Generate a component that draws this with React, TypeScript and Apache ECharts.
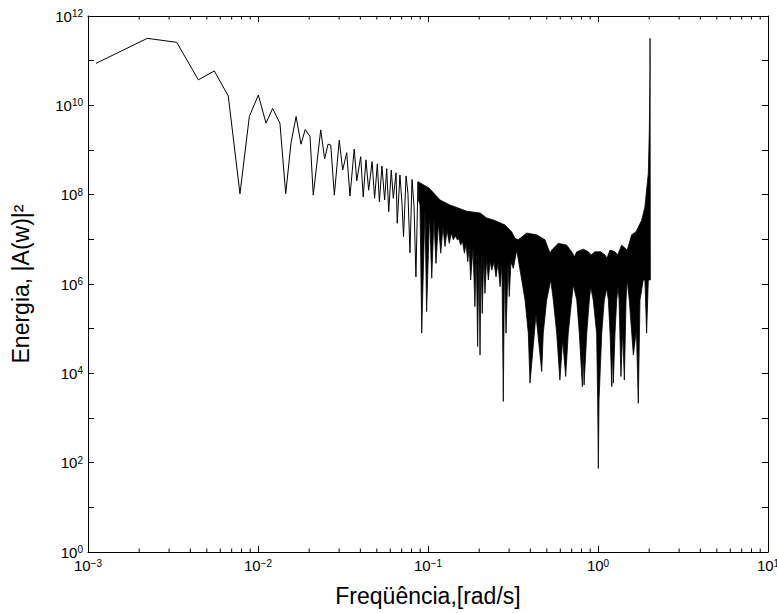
import React, { useEffect, useRef } from "react";
import * as echarts from "echarts";

// Values, as [log10(ω in rad/s), log10(|A(w)|²)]
// Sparse low-frequency part of the spectrum (drawn as a line)
const traceLow: [number, number][] = [
  [-2.953, 10.94], [-2.651, 11.5], [-2.478, 11.41], [-2.351, 10.57], [-2.257, 10.77],
  [-2.175, 10.21], [-2.106, 8.02], [-2.051, 9.75], [-1.998, 10.23], [-1.953, 9.6],
  [-1.914, 9.93], [-1.871, 9.6], [-1.837, 8.02], [-1.806, 9.15], [-1.776, 9.75],
  [-1.747, 9.13], [-1.722, 9.46], [-1.694, 9.3], [-1.675, 7.99], [-1.631, 9.45],
  [-1.608, 8.8], [-1.588, 9.13], [-1.572, 9.11], [-1.551, 7.99], [-1.522, 9.22],
  [-1.502, 8.55], [-1.478, 8.94], [-1.459, 7.97], [-1.434, 9.02], [-1.419, 8.31],
  [-1.396, 8.85], [-1.381, 7.95], [-1.365, 8.78], [-1.349, 8.1], [-1.329, 8.74],
  [-1.314, 7.92], [-1.298, 8.69], [-1.286, 7.84], [-1.271, 8.64], [-1.255, 7.88],
  [-1.243, 8.58], [-1.231, 7.62], [-1.216, 8.55], [-1.204, 7.92], [-1.188, 8.49],
  [-1.181, 7.36], [-1.165, 8.44], [-1.153, 7.81], [-1.144, 7.06], [-1.129, 8.42],
  [-1.118, 8.03], [-1.106, 6.7], [-1.094, 8.34], [-1.082, 7.73], [-1.071, 6.16],
  [-1.059, 8.29],
];

// Dense high-frequency part: upper envelope (left to right)
const envelopeUpper: [number, number][] = [
  [-1.059, 8.29], [-0.994, 8.15], [-0.929, 7.88], [-0.871, 7.77], [-0.772, 7.63],
  [-0.694, 7.59], [-0.655, 7.48], [-0.606, 7.42], [-0.547, 7.32], [-0.508, 7.17],
  [-0.488, 7.02], [-0.469, 6.99], [-0.419, 7.14], [-0.361, 7.1], [-0.312, 6.99],
  [-0.282, 6.69], [-0.272, 6.76], [-0.234, 6.91], [-0.184, 6.87], [-0.149, 6.69],
  [-0.139, 6.61], [-0.125, 6.72], [-0.086, 6.78], [-0.057, 6.72], [-0.041, 6.65],
  [-0.018, 6.72], [0.016, 6.72], [0.041, 6.65], [0.053, 6.58], [0.071, 6.76],
  [0.1, 6.72], [0.116, 6.65], [0.139, 6.87], [0.172, 6.76], [0.198, 7.1],
  [0.224, 7.17], [0.257, 7.43], [0.276, 7.73], [0.296, 8.48], [0.302, 9.45],
  [0.306, 10.75], [0.306, 11.5],
];

// Dense high-frequency part: lower envelope with its dips (right to left)
const envelopeLower: [number, number][] = [
  [0.308, 6.09], [0.296, 6.09], [0.286, 4.9], [0.276, 6.09], [0.266, 6.09],
  [0.247, 5.64], [0.237, 3.33], [0.226, 4.97], [0.208, 4.41], [0.184, 5.64],
  [0.172, 6.09], [0.165, 5.64], [0.155, 3.85], [0.145, 4.97], [0.135, 3.93],
  [0.124, 5.64], [0.118, 5.94], [0.11, 5.64], [0.1, 4.9], [0.09, 3.78],
  [0.085, 4.63], [0.081, 3.7], [0.071, 4.9], [0.061, 5.64], [0.051, 5.9],
  [0.037, 5.64], [0.022, 4.9], [0.006, 3.4], [0.002, 1.87], [-0.002, 3.4],
  [-0.008, 4.9], [-0.028, 5.64], [-0.043, 5.94], [-0.051, 5.64], [-0.066, 4.9],
  [-0.082, 3.74], [-0.087, 4.52], [-0.092, 3.7], [-0.11, 4.9], [-0.125, 5.64],
  [-0.145, 5.98], [-0.155, 5.64], [-0.175, 4.9], [-0.19, 3.93], [-0.208, 4.75],
  [-0.224, 3.85], [-0.243, 4.9], [-0.263, 5.64], [-0.278, 6.09], [-0.302, 5.64],
  [-0.322, 4.9], [-0.331, 4.04], [-0.365, 5.31], [-0.4, 3.78], [-0.41, 4.9],
  [-0.429, 5.64], [-0.478, 6.76], [-0.498, 6.35], [-0.512, 6.49], [-0.522, 5.72],
  [-0.529, 6.45], [-0.541, 4.9], [-0.55, 6.43], [-0.557, 3.37], [-0.565, 6.43],
  [-0.576, 5.94], [-0.588, 6.47], [-0.6, 6.16], [-0.612, 6.49], [-0.625, 6.31],
  [-0.635, 6.52], [-0.645, 6.09], [-0.655, 6.58], [-0.665, 5.79], [-0.672, 6.63],
  [-0.681, 5.34], [-0.688, 6.67], [-0.694, 4.41], [-0.7, 6.72], [-0.708, 4.6],
  [-0.716, 6.76], [-0.724, 5.49], [-0.735, 6.81], [-0.749, 6.09], [-0.758, 6.85],
  [-0.766, 6.5], [-0.776, 6.9], [-0.786, 6.69], [-0.797, 6.96], [-0.808, 6.87],
  [-0.818, 7.01], [-0.828, 6.99], [-0.839, 7.08], [-0.851, 6.99], [-0.863, 7.14],
  [-0.875, 6.91], [-0.888, 7.21], [-0.9, 6.84], [-0.912, 7.28], [-0.925, 6.69],
  [-0.939, 7.37], [-0.953, 6.46], [-0.965, 7.46], [-0.978, 6.13], [-0.991, 7.57],
  [-1.008, 5.38], [-1.018, 7.66], [-1.037, 4.9], [-1.047, 7.77], [-1.056, 7.88],
];

// Axes
const xMin = 0.001;
const xMax = 10;
const yMin = 1;
const yMax = 1e12;
const minorMantissas = [2, 3, 4, 5, 6, 7, 8, 9];
const minorDecades = [0.001, 0.01, 0.1, 1];

const xTitle = "Freqüência,[rad/s]";
const yTitle = "Energia, |A(w)|²";

const FONT = "'Liberation Sans', Arial, Helvetica, sans-serif";

const toVal = (p: [number, number]) => [Math.pow(10, p[0]), Math.pow(10, p[1])];

const supFormatter = (skipOdd: boolean) => (v: number) => {
  const e = Math.round(Math.log10(v));
  if (skipOdd && e % 2 !== 0) return "";
  const s = e < 0 ? "\u2212" + -e : String(e);
  return `{b|10}{s|${s}}`;
};

const richLabel = {
  b: { fontSize: 15, lineHeight: 15, verticalAlign: "bottom", fontFamily: FONT, color: "#000" },
  s: {
    fontSize: 10,
    lineHeight: 10,
    verticalAlign: "top",
    padding: [0, 0, 8, 0],
    fontFamily: FONT,
    color: "#000",
  },
};

export default function App() {
  const ref = useRef<HTMLDivElement>(null);

  useEffect(() => {
    if (!ref.current) return;
    const chart = echarts.init(ref.current, undefined, { renderer: "svg", width: 777, height: 613 });

    const minorFreqs: number[] = [];
    minorDecades.forEach((d) => minorMantissas.forEach((m) => minorFreqs.push(m * d)));

    const axisLine = { show: true, onZero: false, lineStyle: { color: "#000", width: 1 } };
    const axisTick = { show: true, inside: true, length: 6, lineStyle: { color: "#000", width: 1 } };

    const xBase: any = {
      type: "log",
      logBase: 10,
      min: xMin,
      max: xMax,
      interval: 1,
      axisLine,
      axisTick,
      splitLine: { show: false },
      minorTick: { show: false },
    };
    const yBase: any = {
      type: "log",
      logBase: 10,
      min: yMin,
      max: yMax,
      interval: 1,
      axisLine,
      axisTick,
      splitLine: { show: false },
      minorTick: { show: false },
    };

    chart.setOption({
      animation: false,
      backgroundColor: "#fff",
      grid: {
        left: 88,
        right: 9,
        top: 16,
        bottom: 61,
        containLabel: false,
        outerBoundsMode: "none",
      },
      xAxis: [
        {
          ...xBase,
          position: "bottom",
          axisLabel: {
            show: true,
            margin: 6,
            formatter: supFormatter(false),
            rich: richLabel,
          },
          name: xTitle,
          nameLocation: "middle",
          nameGap: 32,
          nameTextStyle: { fontSize: 23, fontFamily: FONT, color: "#000" },
        },
        { ...xBase, position: "top", axisLabel: { show: false } },
      ],
      yAxis: [
        {
          ...yBase,
          position: "left",
          axisLabel: {
            show: true,
            margin: 5,
            formatter: supFormatter(true),
            rich: richLabel,
          },
          name: yTitle,
          nameLocation: "middle",
          nameGap: 56,
          nameTextStyle: { fontSize: 23, fontFamily: FONT, color: "#000" },
        },
        { ...yBase, position: "right", axisLabel: { show: false } },
      ],
      series: [
        {
          type: "line",
          xAxisIndex: 0,
          yAxisIndex: 0,
          data: traceLow.map(toVal),
          symbol: "none",
          showSymbol: false,
          lineStyle: { color: "#000", width: 1 },
          silent: true,
        },
        {
          type: "custom",
          xAxisIndex: 0,
          yAxisIndex: 0,
          silent: true,
          data: [[1, 1e6]],
          encode: { x: 0, y: 1 },
          renderItem: (_params: any, api: any) => {
            const pts = [...envelopeUpper, ...envelopeLower].map((p) => api.coord(toVal(p)));
            return {
              type: "polygon",
              shape: { points: pts },
              style: { fill: "#000", stroke: "#000", lineWidth: 0.8 },
            };
          },
        },
        {
          type: "custom",
          xAxisIndex: 0,
          yAxisIndex: 0,
          silent: true,
          data: minorFreqs.map((f) => [f, yMin]),
          encode: { x: 0, y: 1 },
          renderItem: (_params: any, api: any) => {
            const f = api.value(0);
            const b = api.coord([f, yMin]);
            const t = api.coord([f, yMax]);
            return {
              type: "group",
              children: [
                {
                  type: "line",
                  shape: { x1: b[0], y1: b[1], x2: b[0], y2: b[1] - 3.5 },
                  style: { stroke: "#000", lineWidth: 1 },
                },
                {
                  type: "line",
                  shape: { x1: t[0], y1: t[1], x2: t[0], y2: t[1] + 3.5 },
                  style: { stroke: "#000", lineWidth: 1 },
                },
              ],
            };
          },
        },
      ],
    });

    return () => chart.dispose();
  }, []);

  return (
    <div
      ref={ref}
      style={{ position: "fixed", left: 0, top: 0, width: 777, height: 613, background: "#fff" }}
    />
  );
}
